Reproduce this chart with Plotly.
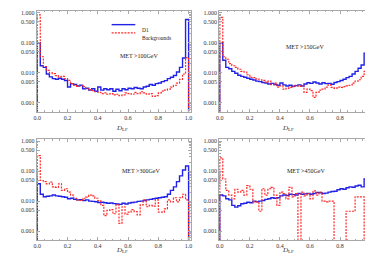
import numpy as np
import plotly.graph_objects as go

# ---------------- data ----------------
BIN_WIDTH = 0.02
N_BINS = 50

d1_met100 = [0.10, 0.017, 0.015, 0.009, 0.0072, 0.0063, 0.006, 0.0065, 0.006, 0.0055,
             0.0033, 0.0043, 0.004, 0.0036, 0.0038, 0.0029, 0.003, 0.0026, 0.0029, 0.0024,
             0.0033, 0.0026, 0.0029, 0.0027, 0.0029, 0.0024, 0.0028, 0.0025, 0.0029, 0.0027,
             0.003, 0.0029, 0.0032, 0.003, 0.0029, 0.0033, 0.0035, 0.004, 0.0038, 0.0043,
             0.0045, 0.005, 0.0054, 0.0063, 0.007, 0.008, 0.0105, 0.015, 0.031, 0.6]
bg_met100 = [0.85, 0.034, 0.016, 0.012, 0.0098, 0.0093, 0.008, 0.0072, 0.0075, 0.0063,
             0.0055, 0.0043, 0.0038, 0.0035, 0.0037, 0.0034, 0.0029, 0.0027, 0.0025, 0.0023,
             0.0022, 0.002, 0.0021, 0.0019, 0.002, 0.0018, 0.0019, 0.0017, 0.0018, 0.0021,
             0.002, 0.0019, 0.0022, 0.002, 0.0023, 0.0021, 0.0019, 0.002, 0.0016, 0.0017,
             0.0021, 0.0024, 0.0026, 0.0028, 0.0033, 0.0038, 0.0045, 0.006, 0.009, 0.032]

d1_met150 = [0.1, 0.026, 0.015, 0.0135, 0.011, 0.0095, 0.0082, 0.0075, 0.007, 0.0065,
             0.006, 0.0057, 0.0052, 0.005, 0.0047, 0.0045, 0.0042, 0.0044, 0.004, 0.0038,
             0.0045, 0.0039, 0.0036, 0.0038, 0.0035, 0.0037, 0.0039, 0.0036, 0.0042, 0.0046,
             0.0044, 0.0049, 0.0045, 0.0042, 0.0046, 0.0043, 0.0044, 0.0041, 0.0047, 0.005,
             0.0055, 0.006, 0.0068, 0.0075, 0.009, 0.011, 0.014, 0.018, 0.045, 0.5]
bg_met150 = [0.7, 0.034, 0.028, 0.02, 0.017, 0.015, 0.013, 0.011, 0.0105, 0.0085,
             0.007, 0.0068, 0.0062, 0.0058, 0.0055, 0.0048, 0.0052, 0.004, 0.0045, 0.0033,
             0.0036, 0.0028, 0.003, 0.0032, 0.0034, 0.0038, 0.0035, 0.0036, 0.0022, 0.0028,
             0.0025, 0.0015, 0.0022, 0.0026, 0.0028, 0.0033, 0.0039, 0.0032, 0.003, 0.0033,
             0.0032, 0.0034, 0.0036, 0.0038, 0.0045, 0.0052, 0.0058, 0.0075, 0.011, 0.03]

d1_met300 = [0.038, 0.017, 0.014, 0.0145, 0.015, 0.016, 0.015, 0.0145, 0.014, 0.0135,
             0.012, 0.0125, 0.0115, 0.011, 0.0112, 0.0105, 0.011, 0.01, 0.0098, 0.0095,
             0.009, 0.0092, 0.0088, 0.0085, 0.0087, 0.0083, 0.008, 0.0078, 0.0085, 0.008,
             0.0087, 0.009, 0.0093, 0.0098, 0.01, 0.0105, 0.011, 0.0115, 0.012, 0.0125,
             0.013, 0.0135, 0.014, 0.017, 0.023, 0.03, 0.045, 0.07, 0.11, 0.15]
bg_met300 = [0.33, 0.049, 0.045, 0.038, 0.043, 0.03, 0.029, 0.038, 0.023, 0.026,
             0.02, 0.016, 0.0125, 0.0108, 0.0105, 0.0125, 0.0136, 0.016, 0.015, 0.0125,
             0.0105, 0.0072, 0.0033, 0.0049, 0.0052, 0.0038, 0.0075, 0.0018, 0.0065, 0.0037,
             0.0043, 0.0052, 0.0045, 0.0035, 0.0075, 0.011, 0.0065, 0.0072, 0.0068, 0.011,
             0.0043, 0.0043, 0.0055, 0.011, 0.0095, 0.013, 0.0095, 0.013, 0.017, 0.011]

d1_met450 = [0.016, 0.015, 0.012, 0.011, 0.0072, 0.0063, 0.007, 0.0082, 0.0085, 0.0092,
             0.0088, 0.01, 0.0095, 0.01, 0.0105, 0.0115, 0.012, 0.013, 0.0125, 0.013,
             0.015, 0.016, 0.0155, 0.017, 0.0165, 0.016, 0.018, 0.017, 0.0175, 0.018,
             0.017, 0.018, 0.0195, 0.019, 0.018, 0.0185, 0.02, 0.021, 0.0215, 0.024,
             0.026, 0.025, 0.028, 0.03, 0.029, 0.032, 0.034, 0.03, 0.055, 0.05]
bg_met450 = [0.28, 0.055, 0.023, 0.016, 0.012, 0.025, 0.02, 0.023, 0.016, 0.033,
             0.025, 0.0095, 0.0095, 0.0046, 0.026, 0.016, 0.026, 0.029, 0.016, 0.0072,
             0.02, 0.018, 0.012, 0.029, 0.014, 0.018, 0.0, 0.02, 0.015, 0.018,
             0.012, 0.022, 0.016, 0.02, 0.01, 0.0095, 0.01, 0.01, 0.0, 0.0,
             0.0, 0.0, 0.0046, 0.0046, 0.0046, 0.014, 0.014, 0.014, 0.0, 0.005]

panel_labels = ["MET >100GeV", "MET >150GeV", "MET >300GeV", "MET >450GeV"]
series_names = ["D1", "Backgrounds"]
x_tickvals = [0.0, 0.2, 0.4, 0.6, 0.8, 1.0]
x_ticktext = ["0.0", "0.2", "0.4", "0.6", "0.8", "1.0"]
y_tickvals = [0.001, 0.005, 0.01, 0.05, 0.1, 0.5, 1.0]
y_ticktext = ["0.001", "0.005", "0.010", "0.050", "0.100", "0.500", "1.000"]
# ---------------------------------------

W, H = 373, 258
FONT = "Liberation Serif, Times New Roman, serif"
BLUE = "#2222e6"
RED = "#ff2a2a"
FRAME = "#a8a8a8"
FLOOR = 1e-6

edges = np.arange(N_BINS + 1) * BIN_WIDTH


def step_xy(vals):
    v = [x if x > 0 else FLOOR for x in vals]
    xs = [edges[0]] + list(edges[:-1]) + [edges[-1], edges[-1]]
    ys = [FLOOR] + v + [v[-1], FLOOR]
    return xs, ys


panels = [
    (d1_met100, bg_met100, (26, 182), (2, 103)),
    (d1_met150, bg_met150, (211, 366), (2, 103)),
    (d1_met300, bg_met300, (26, 182), (131, 232)),
    (d1_met450, bg_met450, (211, 366), (131, 232)),
]

minor_y = []
for k in range(-4, 1):
    for m in range(2, 10):
        v = m * 10.0 ** k
        if 0.0004 < v < 1.2 and m != 5:
            minor_y.append(v)

fig = go.Figure()
layout = dict(width=W, height=H, margin=dict(l=0, r=0, t=0, b=0),
              paper_bgcolor="white", plot_bgcolor="white", showlegend=False,
              font=dict(family=FONT, size=6, color="#333333"))
annotations = []
shapes = []

for i, (d1, bg, (xl, xr), (yt, yb)) in enumerate(panels):
    n = "" if i == 0 else str(i + 1)
    xa, ya = "x" + n, "y" + n
    xs, ys = step_xy(d1)
    fig.add_trace(go.Scatter(x=xs, y=ys, mode="lines", line_shape="hv",
                             line=dict(color=BLUE, width=1.4), xaxis=xa, yaxis=ya,
                             name=series_names[0]))
    xs, ys = step_xy(bg)
    fig.add_trace(go.Scatter(x=xs, y=ys, mode="lines", line_shape="hv",
                             line=dict(color=RED, width=1.2, dash="2px,1.2px"),
                             xaxis=xa, yaxis=ya, name=series_names[1]))
    layout["xaxis" + n] = dict(
        domain=[xl / W, xr / W], anchor=ya, range=[-0.004, 1.013],
        tickmode="array", tickvals=x_tickvals, ticktext=x_ticktext,
        ticks="inside", ticklen=3, tickcolor=FRAME, tickwidth=0.6,
        showline=True, linecolor=FRAME, linewidth=0.8, mirror="ticks",
        showgrid=False, zeroline=False, tickfont=dict(size=6, family=FONT, color="#333"),
        minor=dict(ticks="inside", ticklen=1.5, tickcolor=FRAME, dtick=0.05, tick0=0,
                   showgrid=False),
    )
    layout["yaxis" + n] = dict(
        domain=[1 - yb / H, 1 - yt / H], anchor=xa, type="log",
        range=[np.log10(0.0005), 0.06],
        tickmode="array", tickvals=y_tickvals, ticktext=y_ticktext,
        ticks="inside", ticklen=3, tickcolor=FRAME, tickwidth=0.6,
        showline=True, linecolor=FRAME, linewidth=0.8, mirror="ticks",
        showgrid=False, zeroline=False, tickfont=dict(size=6, family=FONT, color="#333"),
        minor=dict(ticks="inside", ticklen=1.5, tickcolor=FRAME, tickmode="array",
                   tickvals=minor_y, showgrid=False),
    )
    # axis title
    annotations.append(dict(text="<i>D</i><sub>LF</sub>", xref="paper", yref="paper",
                            x=((xl + xr) / 2) / W, y=1 - (yb + 16) / H,
                            showarrow=False, font=dict(size=7, family=FONT, color="#333")))

label_pos = [(130, 42), (319, 33), (132, 163), (320, 163)]
for txt, (cx, cy) in zip(panel_labels, label_pos):
    annotations.append(dict(text=txt, xref="paper", yref="paper", x=cx / W, y=1 - cy / H,
                            showarrow=False, font=dict(size=6, family=FONT, color="#222")))

# legend (panel 1)
leg = [(series_names[0], BLUE, "solid", 1.4, 15.7), (series_names[1], RED, "dash", 1.2, 24)]
for name, col, dash, w, yy in leg:
    shapes.append(dict(type="line", xref="paper", yref="paper", x0=102 / W, x1=126 / W,
                       y0=1 - yy / H, y1=1 - yy / H,
                       line=dict(color=col, width=w, dash="2px,1.2px" if dash == "dash" else "solid")))
    annotations.append(dict(text=name, xref="paper", yref="paper", x=131 / W, y=1 - yy / H,
                            xanchor="left", showarrow=False,
                            font=dict(size=5.5, family=FONT, color="#222")))

layout["annotations"] = annotations
layout["shapes"] = shapes
fig.update_layout(**layout)
fig.write_html("out.html")
